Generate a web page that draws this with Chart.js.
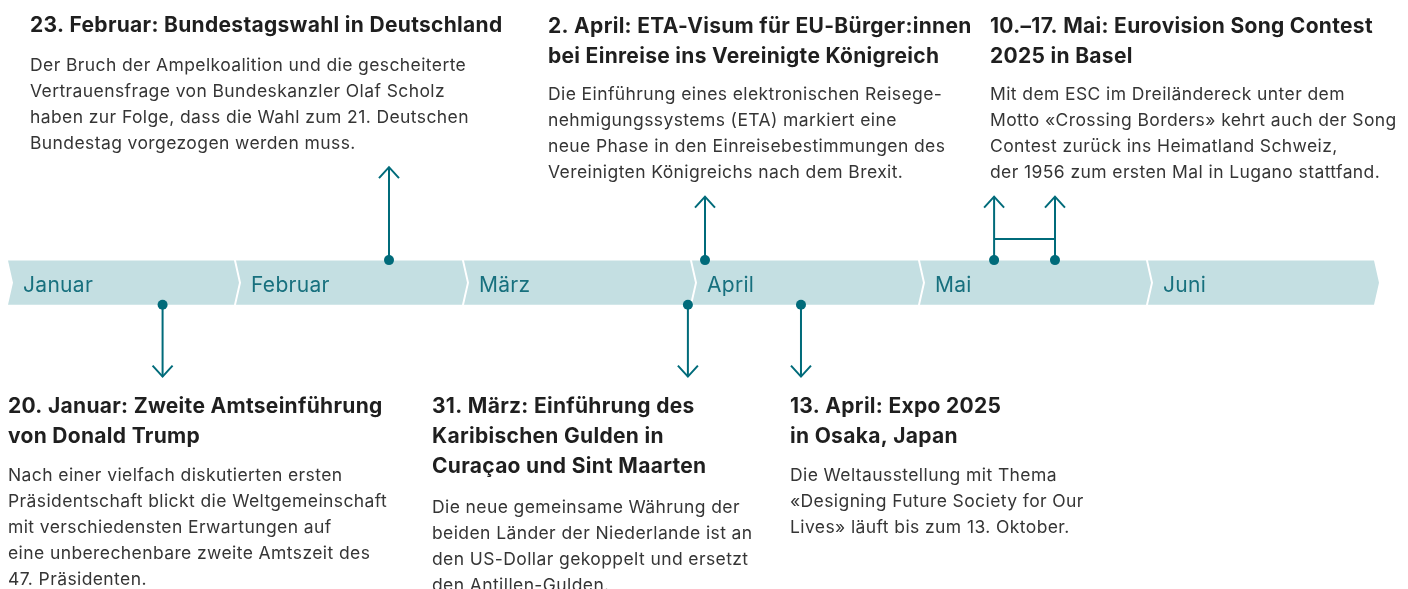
<!DOCTYPE html>
<html lang="de">

<head>
    <meta charset="UTF-8">
    <meta name="viewport" content="width=device-width, initial-scale=1.0">
    <script src="https://cdn.jsdelivr.net/npm/chart.js@4.4.1/dist/chart.umd.min.js"></script>
    <title>Zeitleiste 2025</title>
</head>

<body style="margin: 0; background: #fff;">
    <canvas id="timeline" width="1408" height="589"></canvas>
    <script>
        // months on the band, each one band segment wide
        const months = ['Januar', 'Februar', 'März', 'April', 'Mai', 'Juni'];

        // events: position in month units
        const eventNames = ['20. Januar', '23. Februar', '31. März', '2. April', '13. April', '10. Mai', '17. Mai'];
        const eventPos = [0.678, 1.671, 2.982, 3.057, 3.478, 4.325, 4.592];
        const eventSide = ['down', 'up', 'down', 'up', 'down', 'up', 'up'];
        // where the arrow ends (vertical units, 0 = top of picture)
        const eventReach = [378, 165, 378, 195, 378, 195, 195];
        // ESC range bar between 10. and 17. Mai
        const escRange = [4.325, 4.592];
        const escBarLevel = 238;

        // texts
        const titles = [
            ['23. Februar: Bundestagswahl in Deutschland'],
            ['2. April: ETA-Visum für EU-Bürger:innen', 'bei Einreise ins Vereinigte Königreich'],
            ['10.–17. Mai: Eurovision Song Contest', '2025 in Basel'],
            ['20. Januar: Zweite Amtseinführung', 'von Donald Trump'],
            ['31. März: Einführung des', 'Karibischen Gulden in', 'Curaçao und Sint Maarten'],
            ['13. April: Expo 2025', 'in Osaka, Japan']
        ];
        const bodies = [
            ['Der Bruch der Ampelkoalition und die gescheiterte', 'Vertrauensfrage von Bundeskanzler Olaf Scholz',
                'haben zur Folge, dass die Wahl zum 21. Deutschen', 'Bundestag vorgezogen werden muss.'],
            ['Die Einführung eines elektronischen Reisege-', 'nehmigungssystems (ETA) markiert eine',
                'neue Phase in den Einreisebestimmungen des', 'Vereinigten Königreichs nach dem Brexit.'],
            ['Mit dem ESC im Dreiländereck unter dem', 'Motto «Crossing Borders» kehrt auch der Song',
                'Contest zurück ins Heimatland Schweiz,', 'der 1956 zum ersten Mal in Lugano stattfand.'],
            ['Nach einer vielfach diskutierten ersten', 'Präsidentschaft blickt die Weltgemeinschaft',
                'mit verschiedensten Erwartungen auf', 'eine unberechenbare zweite Amtszeit des', '47. Präsidenten.'],
            ['Die neue gemeinsame Währung der', 'beiden Länder der Niederlande ist an',
                'den US-Dollar gekoppelt und ersetzt', 'den Antillen-Gulden.'],
            ['Die Weltausstellung mit Thema', '«Designing Future Society for Our', 'Lives» läuft bis zum 13. Oktober.']
        ];

        const TEAL = '#006b7a';
        const BAND = '#c4dfe2';
        const bandTop = 260, bandBottom = 305;

        // one stem per event, dot on the band edge
        const datasets = eventPos.map((x, i) => ({
            label: eventNames[i],
            data: [
                { x: x, y: eventSide[i] === 'up' ? bandTop - 0.5 : bandBottom },
                { x: x, y: eventReach[i] }
            ],
            borderColor: TEAL,
            borderWidth: 2,
            pointRadius: [5, 0],
            pointBackgroundColor: TEAL,
            pointBorderWidth: 0,
            pointHoverRadius: 0
        }));
        datasets.push({
            label: 'ESC',
            data: [{ x: escRange[0], y: escBarLevel }, { x: escRange[1], y: escBarLevel }],
            borderColor: TEAL,
            borderWidth: 2,
            pointRadius: 0
        });

        const bandPlugin = {
            id: 'band',
            beforeDatasetsDraw(chart) {
                const ctx = chart.ctx;
                const xs = chart.scales.x, ys = chart.scales.y;
                const top = ys.getPixelForValue(bandTop), bot = ys.getPixelForValue(bandBottom);
                const mid = (top + bot) / 2;
                ctx.save();
                months.forEach((m, i) => {
                    const L = xs.getPixelForValue(i);
                    const R = xs.getPixelForValue(i + 1) - 2;
                    ctx.beginPath();
                    ctx.moveTo(L, top);
                    ctx.lineTo(R, top);
                    ctx.lineTo(R + 5, mid);
                    ctx.lineTo(R, bot);
                    ctx.lineTo(L, bot);
                    ctx.lineTo(L + 5, mid);
                    ctx.closePath();
                    ctx.fillStyle = BAND;
                    ctx.fill();
                    ctx.fillStyle = '#17707e';
                    ctx.font = '400 21px Inter';
                    ctx.letterSpacing = '0.3px';
                    ctx.textBaseline = 'alphabetic';
                    ctx.fillText(m, L + 15, 292);
                });
                ctx.restore();
            }
        };

        const arrowPlugin = {
            id: 'arrows',
            afterDatasetsDraw(chart) {
                const ctx = chart.ctx;
                const xs = chart.scales.x, ys = chart.scales.y;
                ctx.save();
                ctx.strokeStyle = TEAL;
                ctx.lineWidth = 2;
                eventPos.forEach((v, i) => {
                    const x = xs.getPixelForValue(v);
                    const y = ys.getPixelForValue(eventReach[i]);
                    const d = eventSide[i] === 'up' ? 11 : -11;
                    ctx.beginPath();
                    ctx.moveTo(x - 10, y + d);
                    ctx.lineTo(x, y);
                    ctx.lineTo(x + 10, y + d);
                    ctx.stroke();
                });
                ctx.restore();
            }
        };

        // block layout: left x, title baselines, first body baseline
        const blocks = [
            { x: 30, t: 32, b: 71 },
            { x: 548, t: 33, b: 100 },
            { x: 990, t: 33, b: 100 },
            { x: 8, t: 413, b: 481 },
            { x: 432, t: 413, b: 513 },
            { x: 790, t: 413, b: 481 }
        ];

        const textPlugin = {
            id: 'texts',
            afterDraw(chart) {
                const ctx = chart.ctx;
                ctx.save();
                ctx.textBaseline = 'alphabetic';
                blocks.forEach((bl, i) => {
                    ctx.fillStyle = '#1f1f1f';
                    ctx.font = '700 21px Inter';
                    ctx.letterSpacing = '0.3px';
                    titles[i].forEach((line, k) => ctx.fillText(line, bl.x, bl.t + k * 30));
                    ctx.fillStyle = '#353535';
                    ctx.font = '400 17.5px Inter';
                    ctx.letterSpacing = '0.4px';
                    bodies[i].forEach((line, k) => ctx.fillText(line, bl.x, bl.b + k * 26));
                });
                ctx.restore();
            }
        };

        new Chart(document.getElementById('timeline'), {
            type: 'line',
            data: { datasets: datasets },
            options: {
                responsive: false,
                animation: false,
                layout: { padding: { left: 8, right: 32, top: 0, bottom: 0 } },
                plugins: { legend: { display: false }, tooltip: { enabled: false } },
                events: [],
                scales: {
                    x: { type: 'linear', min: 0, max: 6, display: false },
                    y: { type: 'linear', min: 0, max: 589, reverse: true, display: false }
                }
            },
            plugins: [bandPlugin, arrowPlugin, textPlugin]
        });
    </script>
</body>

</html>
